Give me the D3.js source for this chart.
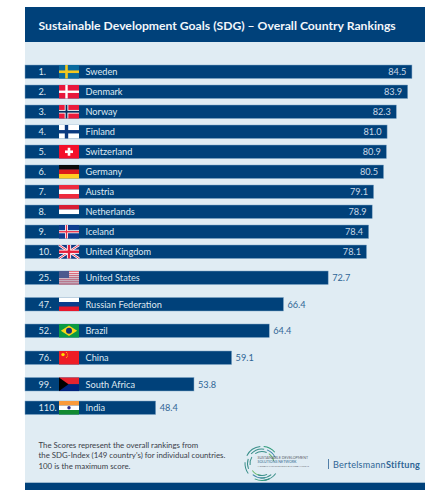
<!DOCTYPE html>
<html><head><meta charset="utf-8">
<script src="https://cdn.jsdelivr.net/npm/d3@7/dist/d3.min.js"></script>
<style>html,body{margin:0;padding:0;background:#fff}svg{display:block}text{font-family:Lato,sans-serif}</style>
</head><body><svg id="c" width="430" height="498"></svg>
<script>
const ranks=["1.","2.","3.","4.","5.","6.","7.","8.","9.","10.","25.","47.","52.","76.","99.","110."];
const countries=["Sweden","Denmark","Norway","Finland","Switzerland","Germany","Austria","Netherlands","Iceland","United Kingdom","United States","Russian Federation","Brazil","China","South Africa","India"];
const scores=[84.5,83.9,82.3,81.0,80.9,80.5,79.1,78.9,78.4,78.1,72.7,66.4,64.4,59.1,53.8,48.4];
const flagCodes=["se","dk","no","fi","ch","de","at","nl","is","gb","us","ru","br","cn","za","in"];
const bandTops=[65,85,105,125,145,165,185,205,225,245,271,297.5,324,351,377.5,401];
const noteLines=["The Scores represent the overall rankings from","the SDG-Index (149 country's) for individual countries.","100 is the maximum score."];
const titleText="Sustainable Development Goals (SDG) – Overall Country Rankings";

const navy="#00417a",pale="#e0ecf3";
const svg=d3.select("#c");
const x=d3.scaleLinear().domain([30,90]).range([25,451]);
const W=20,H=13.5;

svg.append("rect").attr("x",25).attr("y",7).attr("width",400).attr("height",483).attr("fill",pale);
svg.append("rect").attr("x",25).attr("y",7).attr("width",400).attr("height",35).attr("fill",navy);
svg.append("rect").attr("x",25).attr("y",482.7).attr("width",400).attr("height",7.3).attr("fill",navy);
svg.append("text").attr("x",38.5).attr("y",29.5).attr("fill","#f2f6fa").attr("font-size",12.2).attr("font-weight",700).text(titleText);

const rows=svg.selectAll("g.row").data(countries.map((c,i)=>({c,i}))).join("g").attr("class","row");
rows.append("rect").attr("x",25).attr("y",d=>bandTops[d.i]).attr("height",H)
  .attr("width",d=>x(scores[d.i])-25).attr("fill",navy).attr("stroke","#7fa6c6").attr("stroke-width",.5);
rows.append("text").attr("x",38.5).attr("y",d=>bandTops[d.i]+10).attr("fill","#dfe8f0").attr("font-size",9.2).text(d=>ranks[d.i]);
rows.append("text").attr("x",85.5).attr("y",d=>bandTops[d.i]+10).attr("fill","#dfe8f0").attr("font-size",9.2).text(d=>d.c);
rows.append("text").attr("y",d=>bandTops[d.i]+10).attr("font-size",9.2)
  .attr("x",d=>{const i=d.i;return i<10?x(scores[i])-5.5:x(scores[i])+4;})
  .attr("text-anchor",d=>d.i<10?"end":"start")
  .attr("fill",d=>d.i<10?"#c9d8e6":"#2f6595").text(d=>scores[d.i].toFixed(1));

function hb(g,cols){const h=H/cols.length;cols.forEach((c,k)=>{if(c)g.append("rect").attr("y",k*h).attr("width",W).attr("height",h+.05).attr("fill",c)});}
function cross(g,c,w,cx=7.5){g.append("rect").attr("x",cx-w/2).attr("width",w).attr("height",H).attr("fill",c);g.append("rect").attr("y",H/2-w/2).attr("width",W).attr("height",w).attr("fill",c);}
function base(g,c){g.append("rect").attr("width",W).attr("height",H).attr("fill",c);}
const flags={
 se(g){base(g,"#0a6a9e");cross(g,"#f4c81e",2.6);},
 dk(g){base(g,"#e8173c");cross(g,"#fff",2.4);},
 no(g){base(g,"#ea1c3c");cross(g,"#fff",3.6);cross(g,"#05305f",1.8);},
 fi(g){base(g,"#fff");cross(g,"#0a3a80",3.4);},
 ch(g){base(g,"#f40f2a");g.append("rect").attr("x",W/2-4).attr("y",H/2-1.3).attr("width",8).attr("height",2.6).attr("fill","#fff");g.append("rect").attr("x",W/2-1.3).attr("y",H/2-4).attr("width",2.6).attr("height",8).attr("fill","#fff");},
 de(g){hb(g,["#0b0b0b","#dd1a1a","#ffcc22"]);},
 at(g){hb(g,["#ee2a3e","#fff","#ee2a3e"]);},
 nl(g){hb(g,["#d81e34","#fff",null]);},
 is(g){base(g,"#0d3d8f");cross(g,"#fff",3);cross(g,"#e8314a",1.4);},
 gb(g){base(g,"#123a84");[[0,0,W,H],[W,0,0,H]].forEach(l=>g.append("line").attr("x1",l[0]).attr("y1",l[1]).attr("x2",l[2]).attr("y2",l[3]).attr("stroke","#fff").attr("stroke-width",2.6));
   [[0,0,W,H],[W,0,0,H]].forEach(l=>g.append("line").attr("x1",l[0]).attr("y1",l[1]).attr("x2",l[2]).attr("y2",l[3]).attr("stroke","#e5203c").attr("stroke-width",.9));
   cross(g,"#fff",4.2,W/2);cross(g,"#e5203c",2.4,W/2);},
 us(g){hb(g,["#e8707e","#fbe0e2","#e8707e","#fbe0e2","#e8707e","#fbe0e2","#e8707e","#fbe0e2","#e8707e","#fbe0e2","#e8707e","#fbe0e2","#e8707e"]);g.append("rect").attr("width",10).attr("height",7).attr("fill","#4c5a8e");},
 ru(g){hb(g,["#fff","#0a3c8c","#e8172c"]);},
 br(g){base(g,"#0a9a44");g.append("path").attr("d",`M${W/2} 1.6L${W-1.8} ${H/2}L${W/2} ${H-1.6}L1.8 ${H/2}Z`).attr("fill","#f8d616");g.append("circle").attr("cx",W/2).attr("cy",H/2).attr("r",3).attr("fill","#12307c");},
 cn(g){base(g,"#ee1c25");g.append("circle").attr("cx",4).attr("cy",3.6).attr("r",1.7).attr("fill","#ffde00");[[7.5,1.5],[8.6,3],[8.6,5],[7.5,6.3]].forEach(p=>g.append("circle").attr("cx",p[0]).attr("cy",p[1]).attr("r",.55).attr("fill","#ffde00"));},
 za(g){hb(g,["#e8232e","#00247d"]);g.append("path").attr("d",`M0 0L9.5 ${H/2}L0 ${H}Z`).attr("fill","#000");},
 in(g){hb(g,["#fa9a3a","#fff","#128a30"]);g.append("circle").attr("cx",W/2).attr("cy",H/2).attr("r",1.7).attr("fill","#2a2a8a");}
};
rows.append("g").attr("transform",d=>`translate(59,${bandTops[d.i]})`).each(function(d){flags[flagCodes[d.i]](d3.select(this));});

svg.append("g").selectAll("text").data(noteLines).join("text")
  .attr("x",38.5).attr("y",(d,i)=>447.5+i*10.7).attr("fill","#3a4048").attr("font-size",7.85).text(d=>d);

// logos
const arc=d3.arc();
const logo=svg.append("g").attr("transform","translate(262,463.5)");
[[17,"#2f9a7a"],[14.5,"#3d86a8"],[12,"#6cbb6c"]].forEach((r,j)=>{
  [[-1.1,-.1],[.1,.85],[-2.2,-1.5],[-3.6,-2.7],[2.2,3]].forEach((a,k)=>{
    logo.append("path").attr("d",arc({innerRadius:r[0]-.5,outerRadius:r[0]+.5,startAngle:a[0]+j*.25,endAngle:a[1]+j*.25})).attr("fill",k%2?r[1]:"#3a8f8a");
  });
});
const lg=[["SUSTAINABLE DEVELOPMENT",3.6,"#5a6068",-5],["SOLUTIONS NETWORK",3.6,"#2f6a8f",-.8],["A GLOBAL INITIATIVE FOR THE UNITED NATIONS",2.25,"#5a6068",3]];
lg.forEach(t=>logo.append("text").attr("x",-4.5).attr("y",t[3]).attr("font-size",t[1]).attr("fill",t[2]).text(t[0]));
svg.append("rect").attr("x",328).attr("y",459).attr("width",.8).attr("height",10).attr("fill","#2f6595");
const bs=svg.append("text").attr("x",333).attr("y",467.5).attr("font-size",9.1).attr("fill","#2f6595").attr("letter-spacing",.25);
bs.append("tspan").text("Bertelsmann");
bs.append("tspan").attr("font-weight",700).text("Stiftung");
</script></body></html>
